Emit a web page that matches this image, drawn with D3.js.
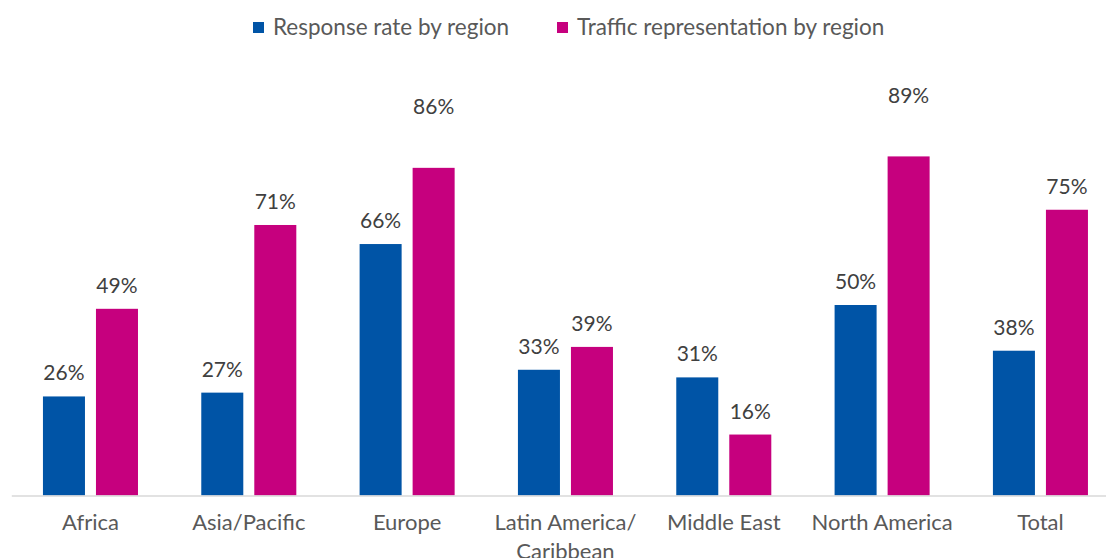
<!DOCTYPE html>
<html lang="en">
<head>
<meta charset="UTF-8">
<title>Response rate vs traffic representation by region</title>
<script src="https://cdn.jsdelivr.net/npm/d3@7"></script>
<style>
  html, body { margin: 0; padding: 0; background: #fff; }
  body { font-family: 'Lato', 'Open Sans', sans-serif; }
  svg { display: block; }
</style>
</head>
<body>
<svg id="chart" width="1106" height="558"></svg>
<script>
// data
const categories = ["Africa", "Asia/Pacific", "Europe", "Latin America/\nCaribbean", "Middle East", "North America", "Total"];
const seriesNames = ["Response rate by region", "Traffic representation by region"];
const responseRate = [26, 27, 66, 33, 31, 50, 38];
const trafficShare = [49, 71, 86, 39, 16, 89, 75];
const seriesColors = ["#0054a6", "#c6007e"];
// a couple of labels were dragged up in the original chart (pixels)
const trafficLabelLift = [0, 0, 38, 0, 0, 37, 0];

const svg = d3.select("#chart");
const baseline = 495.5;

const x0 = d3.scaleBand().domain(categories).range([11.3, 1119.6]);
const x1 = d3.scaleBand().domain([0, 1]).range([0, x0.bandwidth()])
  .paddingInner(0.2075).paddingOuter(0.597);
const y = d3.scaleLinear().domain([0, 100]).range([baseline, 114.5]);

const rows = categories.map((c, i) => ({
  cat: c,
  vals: [
    { v: responseRate[i], k: 0, lift: 0 },
    { v: trafficShare[i], k: 1, lift: trafficLabelLift[i] }
  ]
}));

// bars
const groups = svg.append("g").selectAll("g").data(rows).join("g")
  .attr("transform", d => `translate(${x0(d.cat)},0)`);

groups.selectAll("rect").data(d => d.vals).join("rect")
  .attr("x", d => x1(d.k))
  .attr("width", x1.bandwidth())
  .attr("y", d => y(d.v))
  .attr("height", d => y(0) - y(d.v))
  .attr("fill", d => seriesColors[d.k]);

groups.selectAll("text").data(d => d.vals).join("text")
  .attr("x", d => x1(d.k) + x1.bandwidth() / 2)
  .attr("y", d => y(d.v) - 16 - d.lift)
  .attr("text-anchor", "middle")
  .attr("font-size", 21)
  .attr("fill", "#404040")
  .text(d => d.v + "%");

// x axis
const axis = svg.append("g")
  .attr("transform", `translate(0,${baseline})`)
  .call(d3.axisBottom(x0).tickSize(0).tickFormat(""));
axis.select(".domain").attr("stroke", "#d9d9d9").attr("stroke-width", 1.5);

const ticks = svg.append("g").selectAll("text").data(categories).join("text")
  .attr("x", d => x0(d) + x0.bandwidth() / 2)
  .attr("y", 530)
  .attr("text-anchor", "middle")
  .attr("font-size", 22)
  .attr("fill", "#595959");
ticks.selectAll("tspan").data(d => d.split("\n")).join("tspan")
  .attr("x", function () { return d3.select(this.parentNode).attr("x"); })
  .attr("dy", (d, i) => i === 0 ? 0 : 29)
  .text(d => d);

// legend
const legendX = [253, 557];
const legend = svg.append("g").selectAll("g").data(seriesNames).join("g")
  .attr("transform", (d, i) => `translate(${legendX[i]},22)`);
legend.append("rect").attr("width", 11).attr("height", 11).attr("fill", (d, i) => seriesColors[i]);
legend.append("text")
  .attr("x", 20).attr("y", 13)
  .attr("font-size", 22.5)
  .attr("fill", "#595959")
  .text(d => d);
</script>
</body>
</html>
